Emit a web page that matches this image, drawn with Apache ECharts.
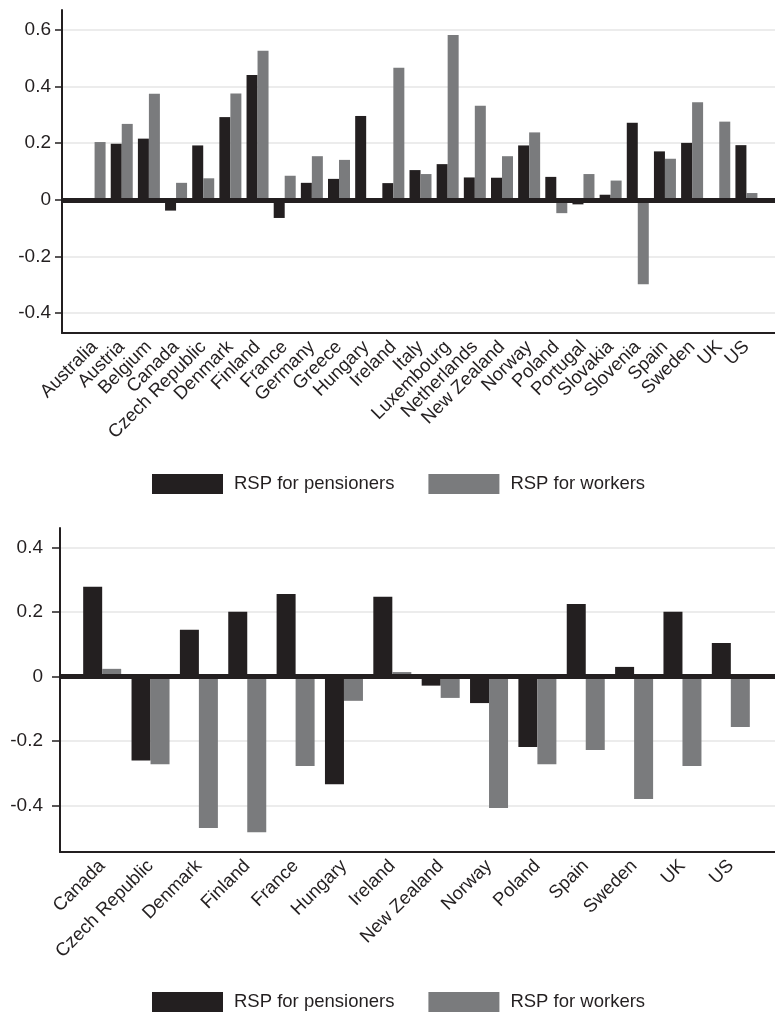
<!DOCTYPE html>
<html>
<head>
<meta charset="utf-8">
<script src="https://cdn.jsdelivr.net/npm/echarts@6/dist/echarts.min.js"></script>
<style>
  html, body { margin: 0; padding: 0; background: #ffffff; }
  #chart { width: 775px; height: 1014px; }
</style>
</head>
<body>
<div id="chart"></div>
<script>
// Upper panel: all countries
const countriesAll = [
  'Australia', 'Austria', 'Belgium', 'Canada', 'Czech Republic', 'Denmark', 'Finland',
  'France', 'Germany', 'Greece', 'Hungary', 'Ireland', 'Italy', 'Luxembourg',
  'Netherlands', 'New Zealand', 'Norway', 'Poland', 'Portugal', 'Slovakia',
  'Slovenia', 'Spain', 'Sweden', 'UK', 'US'
];
const pensionersAll = [
  0.0, 0.198, 0.216, -0.038, 0.192, 0.292, 0.441,
  -0.064, 0.060, 0.074, 0.296, 0.059, 0.105, 0.126,
  0.079, 0.078, 0.192, 0.081, -0.016, 0.018,
  0.272, 0.171, 0.201, -0.006, 0.193
];
const workersAll = [
  0.204, 0.268, 0.374, 0.060, 0.076, 0.375, 0.526,
  0.085, 0.154, 0.141, 0.005, 0.466, 0.091, 0.582,
  0.332, 0.154, 0.238, -0.047, 0.091, 0.068,
  -0.298, 0.145, 0.344, 0.276, 0.024
];
const yTicksAll = [-0.4, -0.2, 0, 0.2, 0.4, 0.6];

// Lower panel: subset of countries
const countriesSub = [
  'Canada', 'Czech Republic', 'Denmark', 'Finland', 'France', 'Hungary', 'Ireland',
  'New Zealand', 'Norway', 'Poland', 'Spain', 'Sweden', 'UK', 'US'
];
const pensionersSub = [
  0.278, -0.260, 0.145, 0.201, 0.256, -0.333, 0.247,
  -0.028, -0.082, -0.218, 0.225, 0.030, 0.201, 0.104
];
const workersSub = [
  0.024, -0.271, -0.469, -0.482, -0.277, -0.075, 0.014,
  -0.066, -0.407, -0.271, -0.227, -0.379, -0.277, -0.156
];
const yTicksSub = [-0.4, -0.2, 0, 0.2, 0.4];

const seriesNames = ['RSP for pensioners', 'RSP for workers'];

const INK = '#231f20';
const GREY = '#7a7b7d';
const FONT = '"Liberation Sans", Arial, Helvetica, sans-serif';

const chart = echarts.init(document.getElementById('chart'), null, { renderer: 'canvas' });

function frameX(gridIndex) {
  return {
    gridIndex, type: 'category', data: [''],
    axisLine: { show: true, onZero: false, lineStyle: { color: INK, width: 2 } },
    axisTick: { show: false }, axisLabel: { show: false }, splitLine: { show: false }
  };
}
function labelX(gridIndex, data, fontSize) {
  return {
    gridIndex, type: 'category', data,
    axisLine: { show: false }, axisTick: { show: false },
    axisLabel: { interval: 0, rotate: 45, margin: 11, fontSize, color: INK, fontFamily: FONT }
  };
}
function frameY(gridIndex, min, max, ticks, fontSize, margin, tickLen) {
  return {
    gridIndex, type: 'value', min, max,
    axisLine: { show: true, lineStyle: { color: INK, width: 2 } },
    axisTick: { show: true, length: tickLen, customValues: ticks, lineStyle: { color: INK, width: 1.5 } },
    axisLabel: { customValues: ticks, margin, fontSize, color: INK, fontFamily: FONT,
      formatter: v => (Math.abs(v) < 1e-9 ? '0' : String(+v.toFixed(1))) },
    splitLine: { show: true, lineStyle: { color: '#ececec', width: 2 } }
  };
}
function hiddenY(gridIndex, min, max) {
  return { gridIndex, type: 'value', min, max, show: false, splitLine: { show: false } };
}
function zeroLine(axisIndex) {
  return {
    type: 'line', xAxisIndex: axisIndex, yAxisIndex: axisIndex, data: [null], z: 1,
    silent: true, symbol: 'none',
    markLine: {
      silent: true, symbol: 'none', label: { show: false },
      lineStyle: { color: INK, width: 5, type: 'solid' },
      data: [{ yAxis: 0 }]
    }
  };
}
function bars(axisIndex, name, data, color, width) {
  return {
    name, type: 'bar', xAxisIndex: axisIndex, yAxisIndex: axisIndex, data,
    barWidth: width, barGap: '0%', z: 3,
    itemStyle: { color }
  };
}
function legendAt(top) {
  return {
    top, left: 152, padding: 0, icon: 'rect', itemWidth: 71, itemHeight: 20, itemGap: 34,
    selectedMode: false, data: seriesNames,
    textStyle: { fontSize: 18.5, color: INK, fontFamily: FONT, padding: [0, 0, 0, 6] }
  };
}

chart.setOption({
  animation: false,
  backgroundColor: '#ffffff',
  textStyle: { fontFamily: FONT },
  grid: [
    { left: 62, right: 0, top: 10, height: 323 },
    { left: 81, right: 15, top: 10, height: 323 },
    { left: 60, right: 0, top: 528, height: 324 },
    { left: 78, right: 20, top: 528, height: 324 }
  ],
  xAxis: [
    frameX(0),
    labelX(1, countriesAll, 18.5),
    frameX(2),
    labelX(3, countriesSub, 18.5)
  ],
  yAxis: [
    frameY(0, -0.47, 0.67, yTicksAll, 19, 11, 7),
    hiddenY(1, -0.47, 0.67),
    frameY(2, -0.543, 0.46, yTicksSub, 19, 17, 8),
    hiddenY(3, -0.543, 0.46)
  ],
  legend: [legendAt(474), legendAt(992)],
  series: [
    zeroLine(0),
    bars(1, seriesNames[0], pensionersAll, INK, 11),
    bars(1, seriesNames[1], workersAll, GREY, 11),
    zeroLine(2),
    bars(3, seriesNames[0], pensionersSub, INK, 19),
    bars(3, seriesNames[1], workersSub, GREY, 19)
  ]
});
</script>
</body>
</html>
